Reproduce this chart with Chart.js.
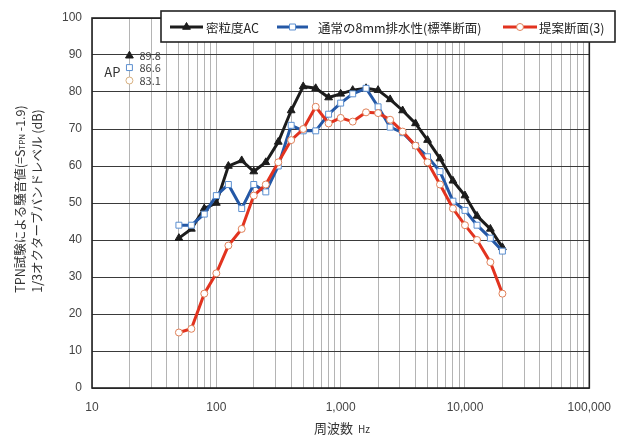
<!DOCTYPE html>
<html>
<head>
<meta charset="utf-8">
<script src="https://cdn.jsdelivr.net/npm/chart.js@4/dist/chart.umd.min.js"></script>
<style>
  html, body { margin: 0; padding: 0; background: #fff; }
</style>
</head>
<body>
<canvas id="chart" width="623" height="437"></canvas>
<script>
// 1/3 octave band centre frequencies (Hz)
const freqs = [50, 63, 80, 100, 125, 160, 200, 250, 315, 400, 500, 630, 800, 1000,
  1250, 1600, 2000, 2500, 3150, 4000, 5000, 6300, 8000, 10000, 12500, 16000, 20000];

const denseAC = [40.5, 43, 48.5, 50, 60, 61.5, 58.5, 61, 66.5, 75, 81.5, 81, 78.5, 79.5,
  80.5, 81, 80.5, 78, 75, 71.5, 67, 62, 56, 52, 46.5, 43, 38];
const porous8mm = [44, 44, 47, 52, 55, 48.5, 55, 53, 60, 71, 69.5, 69.5, 74, 77,
  79.5, 81, 76, 70.5, 69, 65.5, 62.5, 58.5, 50.5, 48, 44, 40.5, 37];
const proposed3 = [15, 16, 25.5, 31, 38.5, 43, 52, 55, 61, 67, 70, 76, 71.5, 73,
  72, 74.5, 74.3, 72.5, 69.3, 65.5, 61, 55, 48.5, 44, 40, 34, 25.5];

const seriesNames = ['密粒度AC', '通常の8mm排水性(標準断面)', '提案断面(3)'];

// AP (overall) values, plotted at 20 Hz
const apFreq = 20;
const apValues = [89.8, 86.6, 83.1];

const decades = [10, 100, 1000, 10000, 100000];
const gridFreqs = [];
decades.slice(0, -1).forEach(d => { for (let m = 1; m < 10; m++) gridFreqs.push(d * m); });
gridFreqs.push(100000);

const FONT = "'Noto Sans CJK JP', 'Liberation Sans', sans-serif";

const styles = [
  { line: '#1c1c1c', style: 'triangle', radius: 4.5, fill: '#1c1c1c', edge: '#1c1c1c' },
  { line: '#2458a6', style: 'rect', radius: 4.2, fill: '#ffffff', edge: '#5b8fd0' },
  { line: '#e2331f', style: 'circle', radius: 3.5, fill: '#ffffff', edge: '#e08058' }
];

const toPoints = vals => freqs.map((f, i) => ({ x: f, y: vals[i] }));

const mainSets = [denseAC, porous8mm, proposed3].map((vals, i) => ({
  label: seriesNames[i],
  data: toPoints(vals),
  borderColor: styles[i].line,
  borderWidth: 3,
  pointStyle: styles[i].style,
  pointRadius: styles[i].radius,
  pointBackgroundColor: styles[i].fill,
  pointBorderColor: styles[i].edge,
  pointBorderWidth: 1,
  order: 3 - i,
  tension: 0
}));

const apSets = apValues.map((v, i) => ({
  label: 'AP',
  data: [{ x: apFreq, y: v }],
  showLine: false,
  pointStyle: styles[i].style,
  pointRadius: styles[i].radius,
  pointBackgroundColor: styles[i].fill,
  pointBorderColor: i === 2 ? '#d8b080' : styles[i].edge,
  pointBorderWidth: 1
}));

const decor = {
  id: 'decor',
  beforeDatasetsDraw(chart) {
    const { ctx, chartArea: a } = chart;
    ctx.save();
    ctx.strokeStyle = '#222';
    ctx.lineWidth = 1.6;
    ctx.strokeRect(a.left, a.top, a.right - a.left, a.bottom - a.top);
    ctx.restore();
  },
  afterDraw(chart) {
    const { ctx, scales: { x, y } } = chart;
    ctx.save();

    // AP labels
    const ax = x.getPixelForValue(apFreq);
    ctx.fillStyle = '#444';
    ctx.font = `11px ${FONT}`;
    ctx.textBaseline = 'middle';
    ctx.textAlign = 'left';
    apValues.forEach(v => ctx.fillText(v.toFixed(1), ax + 10, y.getPixelForValue(v)));
    ctx.fillStyle = '#333';
    ctx.font = `13px ${FONT}`;
    ctx.textAlign = 'right';
    ctx.fillText('AP', ax - 9, y.getPixelForValue(apValues[1]) + 4);

    // legend box
    ctx.fillStyle = '#fff';
    ctx.fillRect(161, 11, 454, 31);
    ctx.strokeStyle = '#222';
    ctx.lineWidth = 1.6;
    ctx.strokeRect(161, 11, 454, 31);
    const ly = 27;
    const items = [[170, 203, 206], [277, 308, 318], [503, 537, 539]];
    items.forEach(([x0, x1, tx], i) => {
      const s = styles[i];
      ctx.strokeStyle = s.line;
      ctx.lineWidth = 3;
      ctx.beginPath(); ctx.moveTo(x0, ly); ctx.lineTo(x1, ly); ctx.stroke();
      ctx.fillStyle = s.fill;
      ctx.strokeStyle = s.edge;
      ctx.lineWidth = 1;
      Chart.helpers.drawPoint(ctx, { pointStyle: s.style, radius: s.radius, borderWidth: 1 }, (x0 + x1) / 2, ly);
      ctx.fillStyle = '#222';
      ctx.font = `12.5px ${FONT}`;
      ctx.textAlign = 'left';
      ctx.textBaseline = 'middle';
      ctx.fillText(seriesNames[i], tx, ly + 1);
    });

    // y axis title (two lines, rotated)
    ctx.fillStyle = '#333';
    ctx.textBaseline = 'middle';
    ctx.textAlign = 'left';
    const drawRuns = (cx, cy, runs) => {
      ctx.save();
      ctx.translate(cx, cy);
      ctx.rotate(-Math.PI / 2);
      let w = 0;
      runs.forEach(r => { ctx.font = `${r.size}px ${FONT}`; w += ctx.measureText(r.t).width; });
      let px = -w / 2;
      runs.forEach(r => {
        ctx.font = `${r.size}px ${FONT}`;
        ctx.fillText(r.t, px, r.dy || 0);
        px += ctx.measureText(r.t).width;
      });
      ctx.restore();
    };
    drawRuns(20, 199, [
      { t: 'TPN試験による騒音値(=S', size: 12.5 },
      { t: 'TPN', size: 8, dy: 2 },
      { t: ' -1.9)', size: 12.5 }
    ]);
    drawRuns(37, 201, [{ t: '1/3オクターブバンドレベル (dB)', size: 12.5 }]);

    // x axis title
    ctx.textAlign = 'left';
    ctx.font = `13px ${FONT}`;
    const w1 = ctx.measureText('周波数 ').width;
    ctx.font = `10px ${FONT}`;
    const w2 = ctx.measureText(' Hz').width;
    const sx = 342 - (w1 + w2) / 2;
    ctx.font = `13px ${FONT}`;
    ctx.fillText('周波数 ', sx, 428);
    ctx.font = `10px ${FONT}`;
    ctx.fillText(' Hz', sx + w1, 429);

    ctx.restore();
  }
};

new Chart(document.getElementById('chart'), {
  type: 'line',
  data: { datasets: [...mainSets, ...apSets] },
  options: {
    responsive: false,
    animation: false,
    layout: { padding: { left: 0, right: 32, top: 18, bottom: 0 } },
    plugins: { legend: { display: false }, tooltip: { enabled: false } },
    scales: {
      x: {
        type: 'logarithmic',
        min: 10,
        max: 100000,
        afterBuildTicks: s => { s.ticks = gridFreqs.map(v => ({ value: v })); },
        afterFit: s => { s.height = 49; },
        border: { display: false },
        grid: { color: '#b4b4b4', lineWidth: 1, drawTicks: false },
        ticks: {
          autoSkip: false,
          maxRotation: 0,
          padding: 12,
          color: '#444',
          font: { size: 12, family: "'Liberation Sans', sans-serif" },
          callback: v => decades.includes(v) ? v.toLocaleString('en-US') : ''
        }
      },
      y: {
        min: 0,
        max: 100,
        afterFit: s => { s.width = 92; },
        border: { display: false },
        grid: { color: '#3a3a3a', lineWidth: 1, drawTicks: false },
        ticks: {
          stepSize: 10,
          padding: 10,
          color: '#444',
          font: { size: 12, family: "'Liberation Sans', sans-serif" }
        }
      }
    }
  },
  plugins: [decor]
});
</script>
</body>
</html>
